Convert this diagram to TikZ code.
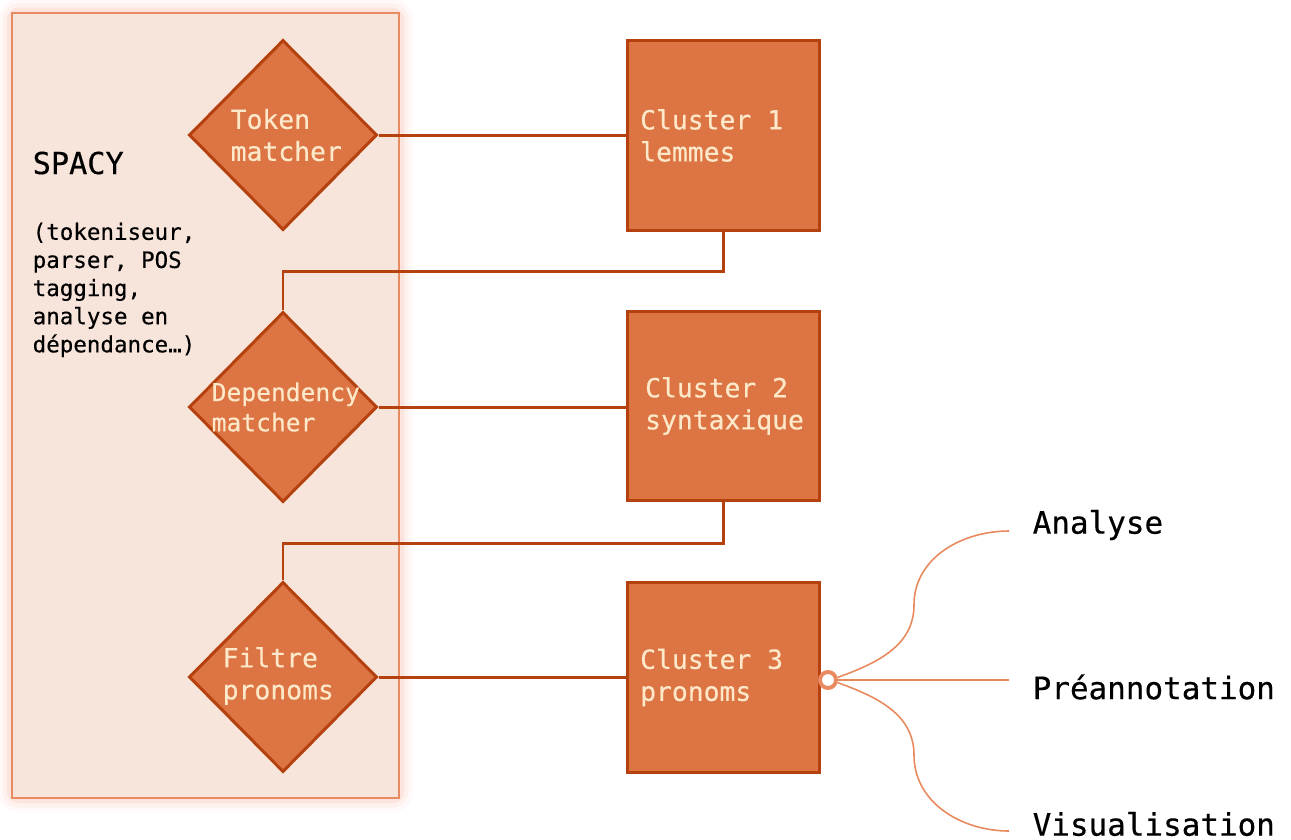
\documentclass[tikz,border=0pt]{standalone}
\usepackage{fontspec}
\newfontfamily\monofont[BoldFont={DejaVu Sans Mono},BoldFeatures={FakeBold=0.4}]{DejaVu Sans Mono}
\usetikzlibrary{shapes.geometric}

\definecolor{panelfill}{HTML}{F7E4DA}
\definecolor{panelline}{HTML}{E88A62}
\definecolor{glow}{HTML}{F4806A}
\definecolor{nodefill}{HTML}{DC7444}
\definecolor{nodeline}{HTML}{B5410E}
\definecolor{nodetext}{HTML}{FDE9C9}
\definecolor{leafline}{HTML}{E8895E}

\tikzset{
  gate/.style={diamond,draw=nodeline,fill=nodefill,line width=0.85pt,
    minimum width=1.88cm,minimum height=1.9cm,inner sep=0pt},
  cluster/.style={rectangle,draw=nodeline,fill=nodefill,line width=0.85pt,
    minimum width=1.91cm,minimum height=1.89cm,inner sep=0pt},
  inside/.style={text=nodetext,align=left,inner sep=0pt,anchor=west,
    font=\monofont\bfseries\fontsize{7.5}{9.1}\selectfont},
  link/.style={draw=nodeline,line width=0.85pt},
  branch/.style={draw=leafline,line width=0.45pt},
  leaf/.style={anchor=west,inner sep=0pt,font=\monofont\bfseries\fontsize{8.8}{10}\selectfont},
  hub/.style={circle,draw=leafline,fill=white,line width=1.1pt,minimum size=0.16cm,inner sep=0pt}
}

\begin{document}
\begin{tikzpicture}[x=0.01cm,y=-0.01cm]
\useasboundingbox (0,0) rectangle (1291,839);

% spacy panel
\foreach \w/\o in {8/0.04,5.5/0.07,3/0.12}
  \draw[glow,line width=\w pt,opacity=\o,rounded corners=2pt] (12,13) rectangle (399,798);
\draw[panelline,fill=panelfill,line width=0.5pt] (12,13) rectangle (399,798);
\node[anchor=west,inner sep=0pt,font=\monofont\bfseries\fontsize{8.6}{10}\selectfont] (spacy) at (32,163) {SPACY};
\node[anchor=north west,inner sep=0pt,align=left,font=\monofont\bfseries\fontsize{6.4}{8}\selectfont] (outils) at (32,222)
  {(tokeniseur,\\parser, POS\\tagging,\\analyse en\\dépendance…)};

% matchers
\node[gate] (tok) at (283,135) {};
\node[inside] at (230,135) {Token\\matcher};
\node[gate] (dep) at (283,407) {};
\node[inside,font=\monofont\bfseries\fontsize{7}{8.6}\selectfont] at (211,407) {Dependency\\matcher};
\node[gate] (fil) at (283,677) {};
\node[inside] at (222,676) {Filtre\\pronoms};

% clusters
\node[cluster] (c1) at (723.5,135.5) {};
\node[inside] at ([xshift=0.13cm]c1.west) {Cluster 1\\lemmes};
\node[cluster] (c2) at (723.5,406) {};
\node[inside] at ([xshift=0.18cm]c2.west) {Cluster 2\\syntaxique};
\node[cluster] (c3) at (723.5,677.5) {};
\node[inside] at ([xshift=0.13cm]c3.west) {Cluster 3\\pronoms};

\draw[link] (tok.east) -- (tok.east -| c1.west);
\draw[link] (dep.east) -- (dep.east -| c2.west);
\draw[link] (fil.east) -- (fil.east -| c3.west);
\draw[link] (c1.south) -- ++(0,40) -| (dep.north);
\draw[link] (c2.south) -- ++(0,41) -| (fil.north);

% sorties
\node[hub] (hub) at (828,680) {};
\coordinate (ana) at (1009,531);
\coordinate (pre) at (1009,680);
\coordinate (vis) at (1009,831);
\node[leaf] (anatxt) at (1032,525) {Analyse};
\node[leaf] (pretxt) at (1032,687) {Préannotation};
\node[leaf] (vistxt) at (1032,824) {Visualisation};
\draw[branch] (hub.15) to[out=20,in=270] (914,605) to[out=90,in=180] (ana);
\draw[branch] (hub.east) -- (pre);
\draw[branch] (hub.-15) to[out=-20,in=90] (914,755) to[out=-90,in=180] (vis);
\end{tikzpicture}
\end{document}
